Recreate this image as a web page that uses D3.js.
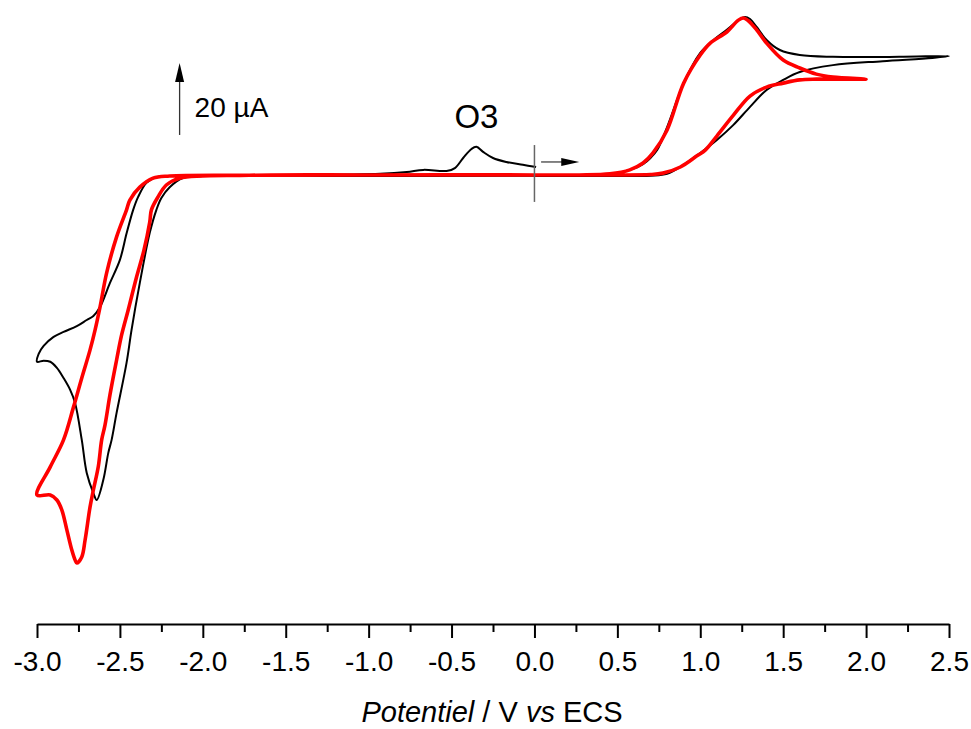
<!DOCTYPE html>
<html>
<head>
<meta charset="utf-8">
<script src="https://cdn.jsdelivr.net/npm/d3@7"></script>
<style>
  html, body { margin: 0; padding: 0; background: #fff; }
  svg { display: block; }
  text { font-family: "Liberation Sans", Arial, sans-serif; fill: #000; }
</style>
</head>
<body>
<svg id="chart" width="971" height="729"></svg>
<script>
// ---------- DATA ----------
// Potential (V vs ECS) and current (µA) for each voltammogram, in scan order.
const blackE = [0.00, 0.40, 0.70, 0.80, 0.90, 1.00, 1.10, 1.20, 1.30, 1.40, 1.50, 1.60, 1.80, 2.10, 2.40, 2.50,
  2.20, 1.80, 1.60, 1.48, 1.40, 1.34, 1.30, 1.27, 1.24, 1.16, 1.08, 1.00, 0.90, 0.80, 0.74, 0.70, 0.655, 0.59, 0.49, 0.27, 0.00,
  -1.00, -2.00, -2.12, -2.20, -2.25, -2.28, -2.32, -2.38, -2.43, -2.46, -2.52, -2.55, -2.57, -2.60, -2.64,
  -2.66, -2.70, -2.73, -2.77, -2.80, -2.84, -2.88, -2.92, -2.96, -3.00,
  -2.99, -2.96, -2.90, -2.84, -2.76, -2.70, -2.66, -2.62, -2.56, -2.50, -2.46, -2.42, -2.39, -2.34, -2.28, -2.20,
  -1.50, -0.93, -0.77, -0.67, -0.53, -0.48, -0.43, -0.38, -0.35, -0.31, -0.25, -0.17, -0.07, 0.01];
const blackI = [0, 0, 0.1, 0.6, 3.1, 6.4, 10.0, 14.2, 19.2, 23.9, 26.7, 28.9, 30.8, 31.9, 32.8, 33.3,
  33.1, 33.1, 33.6, 35.0, 37.8, 41.4, 43.6, 44.2, 43.6, 40.6, 37.8, 34.2, 25.8, 13.6, 7.2, 5.0, 3.3, 1.9, 0.8, 0.3, 0.1,
  0, 0, -0.56, -3.1, -6.1, -9.4, -15.8, -29.7, -42.8, -51.9, -65.8, -73.3, -76.9, -84.4, -90.0,
  -88.1, -82.5, -73.3, -63.1, -59.4, -56.1, -53.3, -51.6, -51.3, -51.6,
  -49.4, -47.2, -44.7, -43.3, -41.7, -40.0, -38.9, -36.4, -29.7, -23.3, -16.0, -9.4, -5.8, -1.9, -0.3, 0,
  0.2, 0.6, 1.1, 1.7, 1.4, 2.2, 5.0, 7.5, 8.1, 6.7, 5.0, 3.9, 3.1, 2.5];

const redE = [0.00, 0.40, 0.70, 0.775, 0.88, 0.98, 1.03, 1.10, 1.20, 1.30, 1.40, 1.50, 1.60, 1.70, 1.90, 2.00,
  1.80, 1.70, 1.60, 1.50, 1.40, 1.34, 1.29, 1.26, 1.23, 1.16, 1.06, 1.00, 0.90, 0.80, 0.715, 0.655, 0.575, 0.455, 0.27, 0.00,
  -1.00, -1.72, -2.14, -2.22, -2.27, -2.31, -2.32, -2.355, -2.40, -2.45, -2.49, -2.52, -2.56, -2.59, -2.61, -2.63, -2.66, -2.68, -2.71, -2.73, -2.76,
  -2.77, -2.79, -2.82, -2.85, -2.88, -2.92, -3.00,
  -2.92, -2.84, -2.78, -2.73, -2.68, -2.65, -2.62, -2.58, -2.52, -2.46, -2.44, -2.38, -2.30, -2.20, -1.72, -1.00, 0.00];
const redI = [0.3, 0.3, 0.4, 0.8, 2.5, 5.6, 7.2, 11.1, 16.9, 22.2, 24.7, 25.8, 26.7, 26.9, 26.9, 26.9,
  27.5, 28.3, 30.0, 32.2, 36.9, 40.6, 43.1, 43.9, 43.3, 40.0, 36.9, 33.6, 25.8, 12.8, 6.4, 3.6, 1.7, 0.6, 0.3, 0.3,
  0.3, 0.2, -0.6, -2.5, -5.8, -9.4, -12.8, -20.6, -28.1, -37.2, -44.2, -51.1, -60.8, -69.2, -73.3, -80.6, -87.2, -91.9, -101.1, -105.8, -107.5,
  -106.7, -103.9, -98.3, -92.8, -90.0, -88.6, -88.6,
  -80.8, -73.3, -64.2, -56.1, -48.3, -42.8, -36.4, -26.9, -16.9, -9.4, -6.7, -3.1, -0.6, 0, 0.2, 0.3, 0.3];

const tickValues = [-3.0, -2.5, -2.0, -1.5, -1.0, -0.5, 0.0, 0.5, 1.0, 1.5, 2.0, 2.5];
const tickLabels = ["-3.0", "-2.5", "-2.0", "-1.5", "-1.0", "-0.5", "0.0", "0.5", "1.0", "1.5", "2.0", "2.5"];
const minorTicks = [-2.75, -2.25, -1.75, -1.25, -0.75, -0.25, 0.25, 0.75, 1.25, 1.75, 2.25];

// annotations (data units)
const scaleBar = { E: -2.14, from: 11.4, to: 31.4, label: "20 µA" };
const startMarker = { E: 0.0, from: -7.2, to: 8.6, arrowFrom: 0.04, arrowTo: 0.27, arrowI: 3.9 };
const peakLabel = { E: -0.35, I: 13.2, text: "O3" };
const xTitle = [{ t: "Potentiel", italic: true }, { t: " / V ", italic: false }, { t: "vs", italic: true }, { t: " ECS", italic: false }];

// ---------- SCALES ----------
const svg = d3.select("#chart");
const x = d3.scaleLinear().domain([-3.0, 2.5]).range([37, 949]);
const y = d3.scaleLinear().domain([-124.44, 48.89]).range([624, 0]);

const line = d3.line()
  .x(d => x(d[0]))
  .y(d => y(d[1]))
  .curve(d3.curveCatmullRom.alpha(0.5));

const blackData = blackE.map((e, i) => [e, blackI[i]]);
const redData = redE.map((e, i) => [e, redI[i]]);

svg.append("path").datum(blackData)
  .attr("d", line).attr("fill", "none").attr("stroke", "#000")
  .attr("stroke-width", 2).attr("stroke-linejoin", "round");
svg.append("path").datum(redData)
  .attr("d", line).attr("fill", "none").attr("stroke", "#ff0000")
  .attr("stroke-width", 3.6).attr("stroke-linejoin", "round");

// ---------- AXIS ----------
const axisG = svg.append("g").attr("transform", `translate(0,${y.range()[0]})`);
axisG.call(d3.axisBottom(x).tickValues(tickValues)
  .tickFormat((d, i) => tickLabels[i]).tickSize(14).tickSizeOuter(0));
const minorG = svg.append("g").attr("transform", `translate(0,${y.range()[0]})`);
minorG.call(d3.axisBottom(x).tickValues(minorTicks).tickFormat("").tickSize(8).tickSizeOuter(0));
minorG.select(".domain").remove();
[axisG, minorG].forEach(g => {
  g.selectAll("path.domain").attr("stroke", "#000").attr("stroke-width", 2);
  g.selectAll(".tick line").attr("stroke", "#000").attr("stroke-width", 2);
});
axisG.selectAll(".tick text")
  .attr("y", 47).attr("dy", 0)
  .style("font-family", '"Liberation Sans", Arial, sans-serif')
  .style("font-size", "28px").attr("fill", "#000");

// axis title
const title = svg.append("text")
  .attr("x", 492).attr("y", 722)
  .attr("text-anchor", "middle")
  .style("font-size", "29px");
xTitle.forEach(p => {
  title.append("tspan").text(p.t).style("font-style", p.italic ? "italic" : "normal");
});

// ---------- ANNOTATIONS ----------
// scale bar arrow
const sbx = x(scaleBar.E);
const sbTop = y(scaleBar.to), sbBot = y(scaleBar.from);
svg.append("line").attr("x1", sbx).attr("x2", sbx)
  .attr("y1", sbBot).attr("y2", sbTop + 15)
  .attr("stroke", "#333").attr("stroke-width", 1.3);
svg.append("path")
  .attr("d", `M${sbx},${sbTop} L${sbx - 4.5},${sbTop + 19} L${sbx + 4.5},${sbTop + 19} Z`)
  .attr("fill", "#000");
svg.append("text").attr("x", sbx + 15).attr("y", 117)
  .style("font-size", "28px").text(scaleBar.label);

// start marker and scan direction arrow
const smx = x(startMarker.E);
svg.append("line").attr("x1", smx).attr("x2", smx)
  .attr("y1", y(startMarker.from)).attr("y2", y(startMarker.to))
  .attr("stroke", "#666").attr("stroke-width", 1.5);
const ay = y(startMarker.arrowI);
const ax0 = x(startMarker.arrowFrom), ax1 = x(startMarker.arrowTo);
svg.append("line").attr("x1", ax0).attr("x2", ax1 - 14)
  .attr("y1", ay).attr("y2", ay)
  .attr("stroke", "#333").attr("stroke-width", 1.2);
svg.append("path")
  .attr("d", `M${ax1},${ay} L${ax1 - 18},${ay - 4} L${ax1 - 18},${ay + 4} Z`)
  .attr("fill", "#000");

// peak label
svg.append("text").attr("x", x(peakLabel.E)).attr("y", y(peakLabel.I))
  .attr("text-anchor", "middle").style("font-size", "33px").text(peakLabel.text);
</script>
</body>
</html>
